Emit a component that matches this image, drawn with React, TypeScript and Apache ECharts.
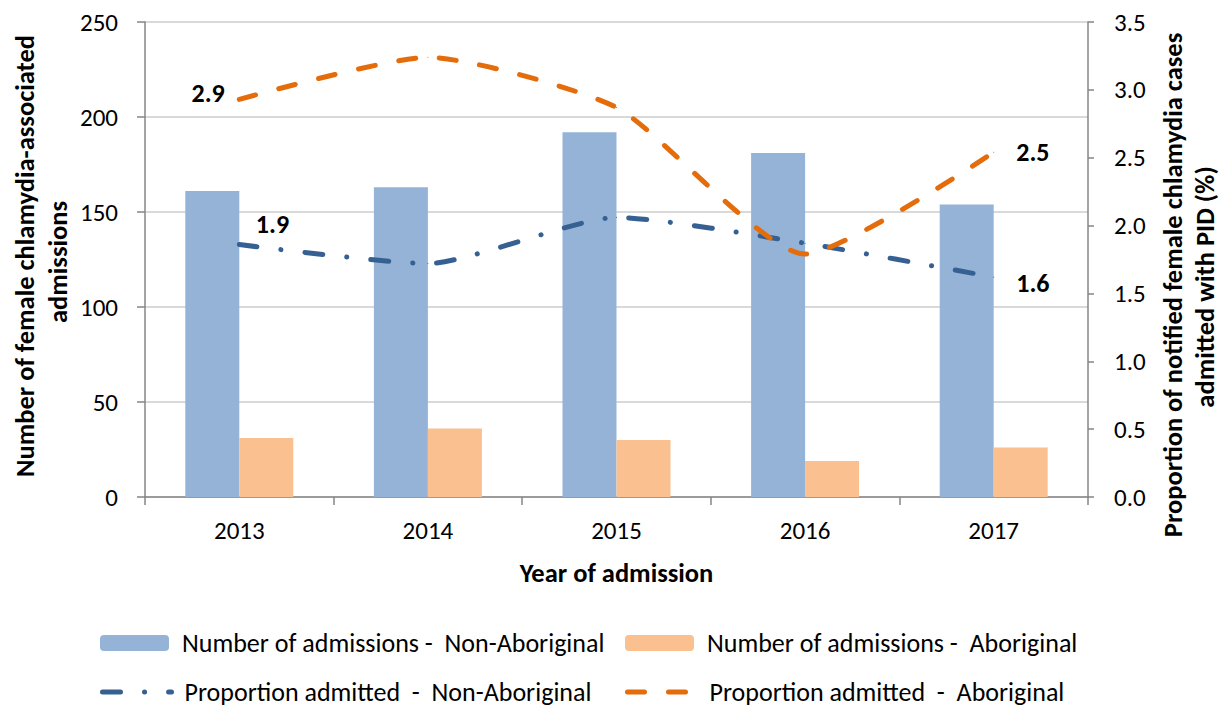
import React, { useEffect, useRef } from 'react';
import * as echarts from 'echarts';

const years = ['2013', '2014', '2015', '2016', '2017'];
const admNonAboriginal = [161, 163, 192, 181, 154];
const admAboriginal = [31, 36, 30, 19, 26];
const propNonAboriginal = [1.86, 1.72, 2.06, 1.87, 1.62];
const propAboriginal = [2.93, 3.24, 2.87, 1.79, 2.54];

const nameBarNA = 'Number of admissions -  Non-Aboriginal';
const nameBarA = 'Number of admissions -  Aboriginal';
const nameLineNA = 'Proportion admitted  -  Non-Aboriginal';
const nameLineA = 'Proportion admitted  -  Aboriginal';

const FONT = 'Carlito, Lato, sans-serif';
const BLUE_BAR = '#95B3D7';
const ORANGE_BAR = '#FAC090';
const BLUE_LINE = '#376092';
const ORANGE_LINE = '#E46C0A';
const AXIS = '#868686';

const BLUE_DASH = [18, 24, 0.1, 24];
const ORANGE_DASH = [17, 24];
const LINE_W = 5;

const labelBase = {
  show: false,
  fontFamily: FONT,
  fontSize: 26,
  fontWeight: 'bold',
  color: '#000',
  formatter: (p: any) => Number(p.value).toFixed(1),
};

function App() {
  const ref = useRef<HTMLDivElement>(null);
  useEffect(() => {
    const chart = echarts.init(ref.current!, null, { renderer: 'svg' });

    const orangeData = propAboriginal.map((v, i) =>
      i === 0
        ? { value: v, label: { show: true, position: 'left', distance: 14, offset: [0, -6] } }
        : i === propAboriginal.length - 1
        ? { value: v, label: { show: true, position: 'right', distance: 22, offset: [0, 0] } }
        : v
    );
    const blueData = propNonAboriginal.map((v, i) =>
      i === 0
        ? { value: v, label: { show: true, position: 'right', distance: 16, offset: [0, -21] } }
        : i === propNonAboriginal.length - 1
        ? { value: v, label: { show: true, position: 'right', distance: 22, offset: [0, 6] } }
        : v
    );

    const legendCommon = {
      itemWidth: 69,
      itemHeight: 16,
      padding: 0,
      textStyle: { fontFamily: FONT, fontSize: 26, color: '#000', padding: [0, 0, 0, 8] },
      selectedMode: false,
    };

    const titleStyle = {
      fontFamily: FONT,
      fontSize: 26.5,
      fontWeight: 'bold',
      fill: '#000',
      align: 'center',
      verticalAlign: 'middle',
    };

    const option: any = {
      animation: false,
      backgroundColor: '#fff',
      grid: { left: 145, right: 141, top: 22, bottom: 210, containLabel: false },
      xAxis: {
        type: 'category',
        data: years,
        axisLine: { show: true, lineStyle: { color: AXIS, width: 1.5 } },
        axisTick: { show: true, length: 8, lineStyle: { color: AXIS, width: 1.5 } },
        axisLabel: { fontFamily: FONT, fontSize: 25, color: '#000', margin: 21 },
        name: 'Year of admission',
        nameLocation: 'middle',
        nameGap: 62,
        nameTextStyle: { fontFamily: FONT, fontSize: 26.5, fontWeight: 'bold', color: '#000' },
      },
      yAxis: [
        {
          type: 'value',
          min: 0,
          max: 250,
          interval: 50,
          axisLine: { show: true, lineStyle: { color: AXIS, width: 1.5 } },
          axisTick: { show: true, length: 8, lineStyle: { color: AXIS, width: 1.5 } },
          axisLabel: { fontFamily: FONT, fontSize: 25, color: '#000', margin: 27 },
          splitLine: { show: true, lineStyle: { color: '#D9D9D9', width: 2 } },
        },
        {
          type: 'value',
          min: 0,
          max: 3.5,
          interval: 0.5,
          position: 'right',
          axisLine: { show: true, lineStyle: { color: AXIS, width: 1.5 } },
          axisTick: { show: true, length: 6, lineStyle: { color: AXIS, width: 1.5 } },
          axisLabel: {
            fontFamily: FONT,
            fontSize: 25,
            color: '#000',
            margin: 26,
            formatter: (v: number) => v.toFixed(1),
          },
          splitLine: { show: false },
        },
      ],
      legend: [
        { ...legendCommon, data: [nameBarNA], left: 100, top: 630 },
        { ...legendCommon, data: [nameBarA], left: 625, top: 630 },
        {
          ...legendCommon,
          data: [nameLineNA],
          left: 100,
          top: 679,
          itemStyle: { opacity: 0 },
          lineStyle: { color: BLUE_LINE, width: LINE_W, type: BLUE_DASH, cap: 'round' },
        },
        {
          ...legendCommon,
          data: [nameLineA],
          left: 625,
          top: 679,
          itemStyle: { opacity: 0 },
          lineStyle: { color: ORANGE_LINE, width: LINE_W, type: ORANGE_DASH, cap: 'round' },
        },
      ],
      series: [
        {
          name: nameBarNA,
          type: 'bar',
          data: admNonAboriginal,
          barWidth: 54,
          barGap: '0%',
          itemStyle: { color: BLUE_BAR },
        },
        {
          name: nameBarA,
          type: 'bar',
          data: admAboriginal,
          barWidth: 54,
          barGap: '0%',
          itemStyle: { color: ORANGE_BAR },
        },
        {
          name: nameLineNA,
          type: 'line',
          yAxisIndex: 1,
          data: blueData,
          smooth: 0.2,
          symbol: 'circle',
          symbolSize: 1,
          itemStyle: { color: BLUE_LINE },
          lineStyle: { color: BLUE_LINE, width: LINE_W, type: BLUE_DASH, cap: 'round' },
          label: labelBase,
          z: 5,
        },
        {
          name: nameLineA,
          type: 'line',
          yAxisIndex: 1,
          data: orangeData,
          smooth: 0.2,
          symbol: 'circle',
          symbolSize: 1,
          itemStyle: { color: ORANGE_LINE },
          lineStyle: { color: ORANGE_LINE, width: LINE_W, type: ORANGE_DASH, cap: 'round' },
          label: labelBase,
          z: 5,
        },
      ],
      graphic: [
        {
          type: 'text',
          x: 25,
          y: 256,
          rotation: Math.PI / 2,
          style: { ...titleStyle, text: 'Number of female chlamydia-associated' },
        },
        {
          type: 'text',
          x: 58,
          y: 262,
          rotation: Math.PI / 2,
          style: { ...titleStyle, text: 'admissions' },
        },
        {
          type: 'text',
          x: 1173,
          y: 285,
          rotation: Math.PI / 2,
          style: { ...titleStyle, text: 'Proportion of notified female chlamydia cases' },
        },
        {
          type: 'text',
          x: 1205,
          y: 287,
          rotation: Math.PI / 2,
          style: { ...titleStyle, text: 'admitted with PID (%)' },
        },
      ],
    };

    chart.setOption(option);
    return () => chart.dispose();
  }, []);

  return (
    <div
      ref={ref}
      style={{ position: 'fixed', left: 0, top: 0, width: 1229, height: 707, background: '#fff' }}
    />
  );
}

export default App;
